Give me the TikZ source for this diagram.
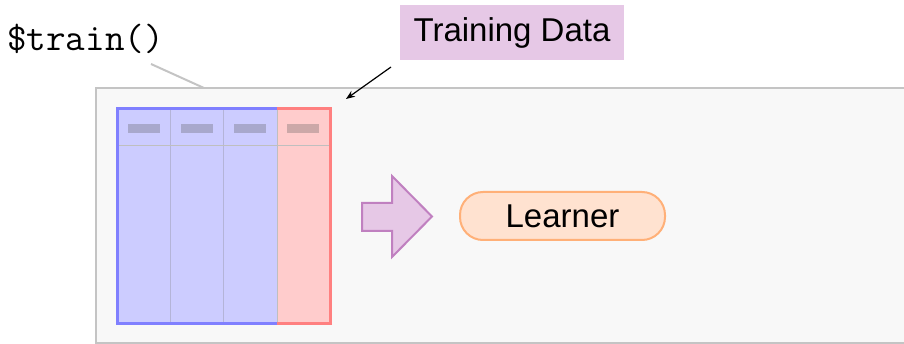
\documentclass[tikz,border=0pt]{standalone}
\usepackage{fontspec}
\setmainfont{Liberation Sans}
\usetikzlibrary{arrows.meta}
\definecolor{boxfill}{HTML}{F8F8F8}
\definecolor{boxline}{HTML}{C4C4C4}
\definecolor{lilac}{HTML}{E6C8E6}
\definecolor{lilacline}{HTML}{C080C0}
\definecolor{bluefill}{HTML}{CCCCFF}
\definecolor{blueline}{HTML}{8080FF}
\definecolor{redfill}{HTML}{FFCCCC}
\definecolor{redline}{HTML}{FF8080}
\definecolor{learnfill}{HTML}{FFE2D0}
\definecolor{learnline}{HTML}{FFB078}
\definecolor{dashblue}{HTML}{A8A8CC}
\definecolor{dashred}{HTML}{CCA8A8}
\definecolor{divider}{HTML}{B4B4D8}
\tikzset{
  bigtext/.style={font=\fontsize{33}{36}\selectfont},
}
\begin{document}
\begin{tikzpicture}[x=1pt,y=-1pt]
\useasboundingbox (0,0) rectangle (904,344);
\clip (0,0) rectangle (904,344);
% outer panel
\draw[boxline, fill=boxfill, line width=1.5pt] (96,88) rectangle (920,343);
\coordinate (paneltop) at (204,88);
% table
\fill[bluefill] (117,109) rectangle (277,323);
\fill[redfill] (277,109) rectangle (330,323);
\draw[divider, line width=1pt] (170,109) -- (170,323) (223,109) -- (223,323);
\draw[black!25, line width=1pt] (277,109) -- (277,323);
\draw[black!25, line width=1pt] (117,146) -- (330,146);
\foreach \x in {128,181,234} \fill[dashblue] (\x,124) rectangle ++(32,9);
\fill[dashred] (287,124) rectangle ++(32,9);
\draw[blueline, line width=3pt] (277,109) -- (117,109) -- (117,323) -- (277,323);
\draw[redline, line width=3pt] (277,109) -- (330,109) -- (330,323) -- (277,323);
\coordinate (tablecorner) at (346,99);
% big arrow
\draw[lilacline, fill=lilac, line width=2pt, line join=miter]
  (362,203) -- (392,203) -- (392,176) -- (432,216.5) -- (392,257) -- (392,231) -- (362,231) -- cycle;
% learner
\node[draw=learnline, fill=learnfill, line width=2pt, rounded corners=23pt,
      minimum width=205pt, minimum height=48pt, inner sep=0pt, bigtext]
      (learner) at (562.5,216) {Learner};
% labels
\node[fill=lilac, minimum width=224pt, minimum height=55pt, inner sep=0pt, bigtext]
      (train) at (512,32.5) {Training Data};
\node[anchor=base west, inner sep=0pt, font=\ttfamily\fontsize{38}{40}\selectfont]
      (method) at (7,51) {\$train()};
\coordinate (methodfoot) at (151,64);
\draw[-{Stealth[length=9pt,width=7pt]}, line width=1.2pt] (391,67) -- (tablecorner);
\draw[boxline, line width=2pt] (methodfoot) -- (paneltop);
\end{tikzpicture}
\end{document}
